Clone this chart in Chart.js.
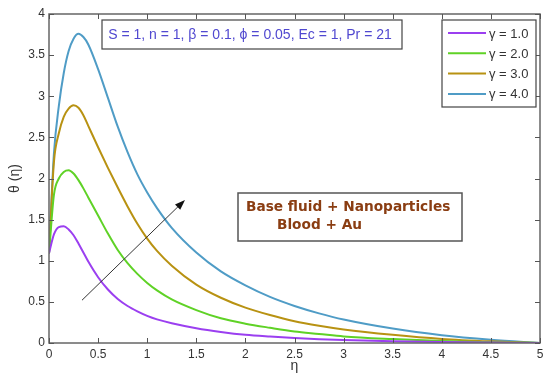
<!DOCTYPE html>
<html>
<head>
<meta charset="utf-8">
<script src="https://cdn.jsdelivr.net/npm/chart.js@4.4.0/dist/chart.umd.min.js"></script>
<style>
  html, body { margin: 0; padding: 0; background: #fff; }
  #wrap { width: 550px; height: 388px; }
</style>
</head>
<body>
<div id="wrap"><canvas id="thetaChart" width="550" height="388"></canvas></div>
<script>
// eta grid shared by all curves
const eta = [0, 0.05, 0.1, 0.15, 0.2, 0.25, 0.3, 0.35, 0.4, 0.5, 0.6, 0.7, 0.8, 0.9, 1.0, 1.1,
             1.25, 1.5, 1.75, 2.0, 2.25, 2.5, 2.75, 3.0, 3.5, 4.0, 4.5, 5.0];

// theta(eta)
const gamma1 = [1.09, 1.32, 1.41, 1.42, 1.38, 1.31, 1.21, 1.10, 0.99, 0.80, 0.65, 0.535, 0.45, 0.385, 0.33, 0.287,
                0.24, 0.18, 0.135, 0.10, 0.078, 0.06, 0.046, 0.035, 0.02, 0.011, 0.005, 0];
const gamma2 = [1.09, 1.80, 2.00, 2.08, 2.10, 2.06, 1.98, 1.88, 1.77, 1.55, 1.33, 1.13, 0.97, 0.84, 0.73, 0.64,
                0.53, 0.40, 0.30, 0.235, 0.185, 0.14, 0.11, 0.08, 0.048, 0.025, 0.01, 0];
const gamma3 = [1.09, 2.20, 2.55, 2.75, 2.85, 2.89, 2.86, 2.77, 2.64, 2.38, 2.13, 1.89, 1.66, 1.45, 1.27, 1.12,
                0.94, 0.71, 0.55, 0.43, 0.34, 0.265, 0.21, 0.165, 0.10, 0.05, 0.02, 0];
const gamma4 = [1.09, 2.30, 2.88, 3.28, 3.55, 3.70, 3.76, 3.72, 3.63, 3.33, 2.98, 2.63, 2.32, 2.05, 1.83, 1.64,
                1.40, 1.10, 0.87, 0.70, 0.56, 0.45, 0.36, 0.285, 0.175, 0.095, 0.04, 0];

const seriesLabels = ["γ = 1.0", "γ = 2.0", "γ = 3.0", "γ = 4.0"];
const seriesColors = ["#9b3ff0", "#5fd226", "#b89212", "#4f9cc6"];

const xTicks = [0, 0.5, 1, 1.5, 2, 2.5, 3, 3.5, 4, 4.5, 5];
const yTicks = [0, 0.5, 1, 1.5, 2, 2.5, 3, 3.5, 4];

const paramText = "S = 1, n = 1, β = 0.1, ϕ = 0.05, Ec = 1, Pr = 21";
const noteLines = ["Base fluid + Nanoparticles", "Blood + Au"];
// arrow in data coordinates: [eta, theta]
const arrowFrom = [0.336, 0.52];
const arrowTo = [1.385, 1.74];

function toPoints(ys) {
    return eta.map((x, i) => ({ x: x, y: ys[i] }));
}

const allSeries = [gamma1, gamma2, gamma3, gamma4];
const axisFont = "'Liberation Sans', Arial, sans-serif";

const decorPlugin = {
    id: "decor",
    afterDraw(chart) {
        const { ctx, chartArea: a, scales } = chart;
        const x = scales.x, y = scales.y;
        ctx.save();

        // frame
        ctx.strokeStyle = "#666";
        ctx.lineWidth = 1.5;
        ctx.strokeRect(a.left, a.top, a.right - a.left, a.bottom - a.top);

        // inward ticks on all sides
        ctx.lineWidth = 1;
        ctx.strokeStyle = "#555";
        ctx.beginPath();
        xTicks.forEach(v => {
            const px = Math.round(x.getPixelForValue(v)) + 0.5;
            ctx.moveTo(px, a.bottom); ctx.lineTo(px, a.bottom - 5);
            ctx.moveTo(px, a.top); ctx.lineTo(px, a.top + 5);
        });
        yTicks.forEach(v => {
            const py = Math.round(y.getPixelForValue(v)) + 0.5;
            ctx.moveTo(a.left, py); ctx.lineTo(a.left + 5, py);
            ctx.moveTo(a.right, py); ctx.lineTo(a.right - 5, py);
        });
        ctx.stroke();

        // parameter box
        ctx.fillStyle = "#fff";
        ctx.fillRect(102, 20, 300, 29);
        ctx.strokeStyle = "#444";
        ctx.lineWidth = 1.2;
        ctx.strokeRect(102, 20, 300, 29);
        ctx.fillStyle = "#5048d0";
        ctx.font = "14px " + axisFont;
        ctx.textBaseline = "middle";
        ctx.textAlign = "center";
        ctx.fillText(paramText, 250, 35);

        // arrow
        const x0 = x.getPixelForValue(arrowFrom[0]), y0 = y.getPixelForValue(arrowFrom[1]);
        const x1 = x.getPixelForValue(arrowTo[0]), y1 = y.getPixelForValue(arrowTo[1]);
        const ang = Math.atan2(y1 - y0, x1 - x0);
        ctx.strokeStyle = "#333";
        ctx.lineWidth = 1;
        ctx.beginPath();
        ctx.moveTo(x0, y0);
        ctx.lineTo(x1 - 8 * Math.cos(ang), y1 - 8 * Math.sin(ang));
        ctx.stroke();
        ctx.fillStyle = "#111";
        ctx.beginPath();
        ctx.moveTo(x1, y1);
        ctx.lineTo(x1 - 11 * Math.cos(ang - 0.35), y1 - 11 * Math.sin(ang - 0.35));
        ctx.lineTo(x1 - 11 * Math.cos(ang + 0.35), y1 - 11 * Math.sin(ang + 0.35));
        ctx.closePath();
        ctx.fill();

        // note box
        ctx.fillStyle = "#fff";
        ctx.fillRect(238, 193, 224, 48);
        ctx.strokeStyle = "#555";
        ctx.lineWidth = 1.5;
        ctx.strokeRect(238, 193, 224, 48);
        ctx.fillStyle = "#8a3d12";
        ctx.font = "bold 13.7px 'DejaVu Sans', Verdana, sans-serif";
        ctx.textAlign = "left";
        ctx.fillText(noteLines[0], 246, 207);
        ctx.fillText(noteLines[1], 277, 225);

        // legend
        ctx.fillStyle = "#fff";
        ctx.fillRect(442, 20, 94, 87);
        ctx.strokeStyle = "#444";
        ctx.lineWidth = 1.2;
        ctx.strokeRect(442, 20, 94, 87);
        ctx.font = "13px " + axisFont;
        chart.data.datasets.forEach((ds, i) => {
            const ly = 33 + i * 20.3;
            ctx.strokeStyle = ds.borderColor;
            ctx.lineWidth = 2;
            ctx.beginPath();
            ctx.moveTo(448, ly); ctx.lineTo(486, ly);
            ctx.stroke();
            ctx.fillStyle = "#333";
            ctx.fillText(ds.label, 489, ly + 1);
        });

        ctx.restore();
    }
};

new Chart(document.getElementById("thetaChart"), {
    type: "line",
    data: {
        datasets: allSeries.map((ys, i) => ({
            label: seriesLabels[i],
            data: toPoints(ys),
            borderColor: seriesColors[i],
            backgroundColor: seriesColors[i],
            borderWidth: 2,
            pointRadius: 0,
            cubicInterpolationMode: "monotone",
            fill: false,
        })),
    },
    options: {
        responsive: false,
        animation: false,
        layout: { padding: { top: 14, right: 10, left: 0, bottom: 0 } },
        plugins: {
            legend: { display: false },
            tooltip: { enabled: false },
        },
        scales: {
            x: {
                type: "linear",
                min: 0,
                max: 5,
                afterBuildTicks: s => { s.ticks = xTicks.map(v => ({ value: v })); },
                grid: { display: false, drawTicks: false },
                border: { display: false },
                ticks: {
                    padding: 4,
                    maxRotation: 0,
                    color: "#333",
                    callback: v => String(v),
                    font: { size: 12, family: axisFont },
                },
                title: {
                    display: true,
                    text: "η",
                    color: "#333",
                    padding: { top: 2, bottom: 13 },
                    font: { size: 14, family: axisFont },
                },
                afterFit: s => { s.height = 45; },
            },
            y: {
                type: "linear",
                min: 0,
                max: 4,
                afterBuildTicks: s => { s.ticks = yTicks.map(v => ({ value: v })); },
                grid: { display: false, drawTicks: false },
                border: { display: false },
                ticks: {
                    padding: 4,
                    color: "#333",
                    callback: v => String(v),
                    font: { size: 12, family: axisFont },
                },
                title: {
                    display: true,
                    text: "θ (η)",
                    color: "#333",
                    padding: { top: 7, bottom: 4 },
                    font: { size: 14, family: axisFont },
                },
                afterFit: s => { s.width = 49; },
            },
        },
    },
    plugins: [decorPlugin],
});
</script>
</body>
</html>
